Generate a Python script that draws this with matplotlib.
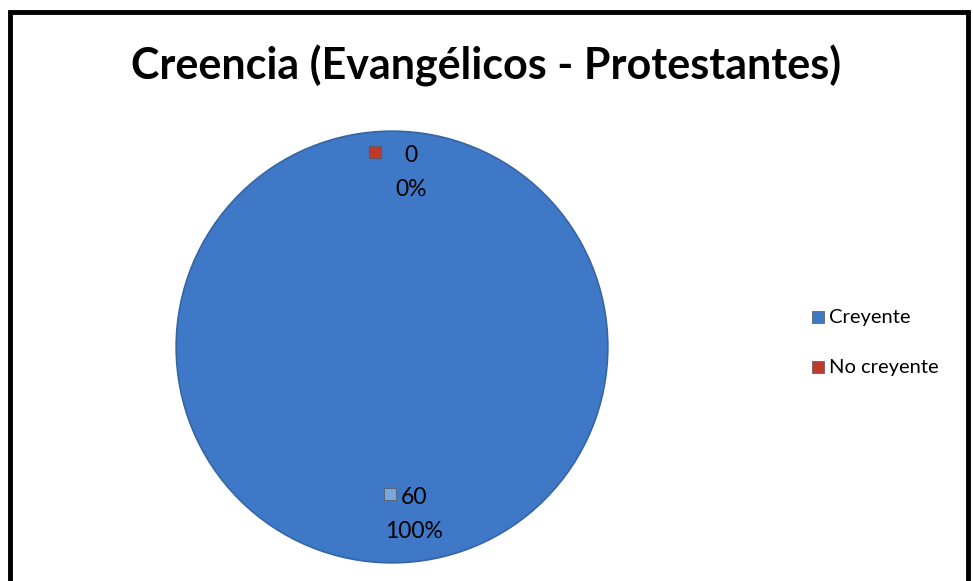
import matplotlib
matplotlib.use("Agg")
import matplotlib.pyplot as plt
import matplotlib.patches as mpatches

categories = ["Creyente", "No creyente"]
values = [60, 0]
colors = ["#3F78C6", "#C0392B"]
label_colors = ["#7AA7DE", "#C0392B"]
title = "Creencia (Evangélicos - Protestantes)"

plt.rcParams['font.family'] = ['Lato', 'DejaVu Sans']

W, H = 973, 581
fig = plt.figure(figsize=(W / 100, H / 100), dpi=100)

# outer frame
fig.patches.append(mpatches.Rectangle((10 / W, -0.05), (968 - 10) / W, (H - 12) / H + 0.05,
                                      transform=fig.transFigure, fill=False,
                                      edgecolor="black", linewidth=3.5))

cx, cy, r = 392, 347, 218
ax = fig.add_axes([(cx - r) / W, (H - cy - r) / H, 2 * r / W, 2 * r / H])
wedges, _ = ax.pie(values, colors=colors, startangle=90, counterclock=False,
                   radius=1, wedgeprops=dict(linewidth=0))
ax.add_patch(mpatches.Circle((0, 0), 1, fill=False, edgecolor="#3565A3", linewidth=1.2))
ax.set_xlim(-1.01, 1.01)
ax.set_ylim(-1.01, 1.01)
ax.set_aspect("auto")
ax.axis("off")

fig.text(0.5, 1 - 66 / H, title, ha="center", va="center",
         fontsize=31, fontweight="bold")

total = sum(values)
# data labels: (marker x, text x, top y) in pixels
label_pos = [(390, 414, 497), (375, 411, 155)]
for i, (mx, tx, ty) in enumerate(label_pos):
    pct = "{:.0f}%".format(100 * values[i] / total)
    fig.text(tx / W, 1 - ty / H, str(values[i]), ha="center", va="center", fontsize=16.5)
    fig.text(tx / W, 1 - (ty + 34) / H, pct, ha="center", va="center", fontsize=16.5)
    fig.add_artist(plt.Line2D([mx / W], [1 - (ty - 3) / H], marker="s", markersize=8.5,
                              color=label_colors[i], markeredgecolor="#555555",
                              markeredgewidth=0.5, transform=fig.transFigure))

# legend
for i, name in enumerate(categories):
    y = 1 - (317 + 50 * i) / H
    fig.add_artist(plt.Line2D([818 / W], [y], marker="s", markersize=8.5,
                              color=colors[i], markeredgecolor="#555555",
                              markeredgewidth=0.5, transform=fig.transFigure))
    fig.text(829 / W, y, name, ha="left", va="center", fontsize=14.5)

fig.savefig("out.png", dpi=100, facecolor="white")
